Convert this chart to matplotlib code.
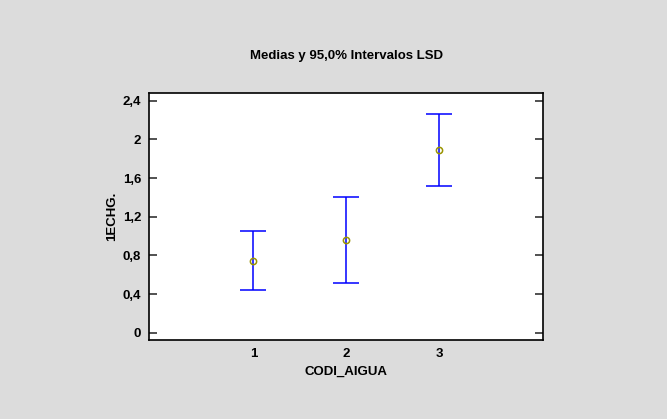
import matplotlib.pyplot as plt

plt.rcParams['font.family'] = ['Liberation Sans', 'DejaVu Sans']

# group codes and LSD interval values
grupos = [1, 2, 3]
medias = [0.739, 0.963, 1.892]
inferior = [0.437, 0.512, 1.513]
superior = [1.049, 1.407, 2.260]
yticks = [0, 0.4, 0.8, 1.2, 1.6, 2.0, 2.4]
ytick_labels = ['0', '0,4', '0,8', '1,2', '1,6', '2', '2,4']

fig = plt.figure(figsize=(6.67, 4.19), dpi=100)
fig.patch.set_facecolor('#dcdcdc')
ax = fig.add_axes([0.2239, 0.1885, 0.5898, 0.5888])

err_lo = [m - lo for m, lo in zip(medias, inferior)]
err_hi = [hi - m for m, hi in zip(medias, superior)]
ax.errorbar(grupos, medias, yerr=[err_lo, err_hi], fmt='none',
            ecolor='#0000ff', elinewidth=1.1, capsize=9.5, capthick=1.1)
ax.plot(grupos, medias, 'o', ms=4.5, mfc='none', mec='#9a9400', mew=1.1)

ax.set_xlim(-0.118, 4.11)
ax.set_ylim(-0.0755, 2.477)
ax.set_xticks(grupos)
ax.set_xticklabels([str(g) for g in grupos], fontweight='bold', fontsize=9.5)
ax.set_yticks(yticks)
ax.set_yticklabels(ytick_labels, fontweight='bold', fontsize=9.5)
ax.tick_params(axis='x', length=0, pad=6)
ax.tick_params(axis='y', direction='in', length=6, width=1.2, color='#333333',
               right=True, pad=6)
for s in ax.spines.values():
    s.set_linewidth(1.2)

ax.set_title('Medias y 95,0% Intervalos LSD', fontweight='bold', fontsize=9.5, pad=25)
ax.set_xlabel('CODI_AIGUA', fontweight='bold', fontsize=9.5, labelpad=4)
ax.set_ylabel('1ECHG.', fontweight='bold', fontsize=9.5, labelpad=3)

fig.savefig('out.png', dpi=100, facecolor=fig.get_facecolor())
